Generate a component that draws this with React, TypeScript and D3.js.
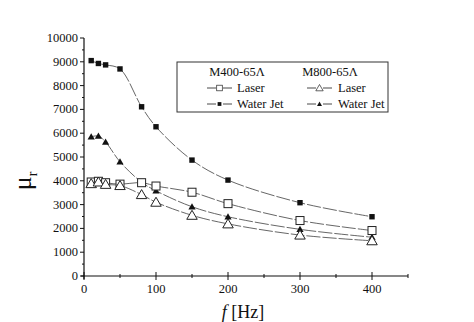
import React from "react";
import * as d3 from "d3";

const freqs = [10, 20, 30, 50, 80, 100, 150, 200, 300, 400];
const m400WaterJet = [9050, 8930, 8870, 8700, 7110, 6270, 4870, 4030, 3080, 2490];
const m800WaterJet = [5850, 5880, 5630, 4800, 3940, 3580, 2910, 2490, 1960, 1630];
const m400Laser = [3950, 3980, 3920, 3860, 3920, 3780, 3520, 3040, 2330, 1910];
const m800Laser = [3880, 3950, 3850, 3800, 3420, 3100, 2550, 2190, 1720, 1480];
const xTicks = [0, 100, 200, 300, 400];
const xMinor = [50, 150, 250, 350, 450];
const yTicks = [0, 1000, 2000, 3000, 4000, 5000, 6000, 7000, 8000, 9000, 10000];
const yMinor = [500, 1500, 2500, 3500, 4500, 5500, 6500, 7500, 8500, 9500];

const W = 474, H = 322;
const x = d3.scaleLinear().domain([0, 450]).range([84, 408]);
const y = d3.scaleLinear().domain([0, 10000]).range([276, 38]);
const font = "'Liberation Serif', 'Times New Roman', serif";

type Marker = "sqOpen" | "sqFill" | "triOpen" | "triFill";

function MarkerShape({ type, cx, cy }: { type: Marker; cx: number; cy: number }) {
  if (type === "sqFill") return <rect x={cx - 2.7} y={cy - 2.7} width={5.4} height={5.4} fill="#111" />;
  if (type === "sqOpen")
    return <rect x={cx - 4} y={cy - 4} width={8} height={8} fill="#fff" stroke="#222" strokeWidth={1} />;
  if (type === "triFill") {
    const s = 3.6;
    return <path d={`M${cx},${cy - s}L${cx + s},${cy + s * 0.75}L${cx - s},${cy + s * 0.75}Z`} fill="#111" />;
  }
  const s = 5;
  return (
    <path
      d={`M${cx},${cy - s}L${cx + s * 1.05},${cy + s * 0.8}L${cx - s * 1.05},${cy + s * 0.8}Z`}
      fill="#fff"
      stroke="#222"
      strokeWidth={1}
    />
  );
}

const series: { vals: number[]; marker: Marker; dash: string }[] = [
  { vals: m400WaterJet, marker: "sqFill", dash: "14,2" },
  { vals: m800WaterJet, marker: "triFill", dash: "14,2" },
  { vals: m400Laser, marker: "sqOpen", dash: "14,2" },
  { vals: m800Laser, marker: "triOpen", dash: "14,2" },
];

export default function App() {
  const line = d3
    .line<number>()
    .x((_, i) => x(freqs[i]))
    .y((v) => y(v))
    .curve(d3.curveCatmullRom.alpha(0.5));

  return (
    <svg width={W} height={H} style={{ position: "absolute", left: 0, top: 0, background: "#fff" }}>
      <rect width={W} height={H} fill="#fff" />
      {/* axes */}
      <line x1={84} x2={84} y1={y(10000)} y2={279} stroke="#111" strokeWidth={1.2} />
      <line x1={81} x2={408} y1={276} y2={276} stroke="#111" strokeWidth={1.2} />
      {yTicks.map((t) => (
        <g key={"y" + t}>
          <line x1={80} x2={84} y1={y(t)} y2={y(t)} stroke="#111" strokeWidth={1} />
          <text x={78} y={y(t) + 4} textAnchor="end" fontFamily={font} fontSize={12.5} fill="#111">
            {t}
          </text>
        </g>
      ))}
      {yMinor.map((t) => (
        <line key={"ym" + t} x1={82} x2={84} y1={y(t)} y2={y(t)} stroke="#111" strokeWidth={1} />
      ))}
      {xTicks.map((t) => (
        <g key={"x" + t}>
          <line x1={x(t)} x2={x(t)} y1={272} y2={280} stroke="#111" strokeWidth={1} />
          <text x={x(t)} y={293} textAnchor="middle" fontFamily={font} fontSize={12.5} fill="#111">
            {t}
          </text>
        </g>
      ))}
      {xMinor.map((t) => (
        <line key={"xm" + t} x1={x(t)} x2={x(t)} y1={274} y2={278} stroke="#111" strokeWidth={1} />
      ))}
      {/* axis titles */}
      <text x={243} y={318} textAnchor="middle" fontFamily={font} fontSize={18} fill="#111">
        <tspan fontStyle="italic">f</tspan> [Hz]
      </text>
      <text
        transform="translate(31,181) rotate(-90)"
        textAnchor="middle"
        fontFamily={font}
        fontSize={26}
        fill="#111"
      >
        μ<tspan fontSize={14} dy={6}>r</tspan>
      </text>
      {/* series */}
      {series.map((s, si) => (
        <g key={"s" + si}>
          <path d={line(s.vals) || ""} fill="none" stroke="#555" strokeWidth={0.9} strokeDasharray={s.dash} />
          {s.vals.map((v, i) => (
            <MarkerShape key={i} type={s.marker} cx={x(freqs[i])} cy={y(v)} />
          ))}
        </g>
      ))}
      {/* legend */}
      <rect x={177} y={62} width={211} height={50} fill="#fff" stroke="#333" strokeWidth={1} />
      <text x={237} y={76} textAnchor="middle" fontFamily={font} fontSize={12.5} fill="#111">
        M400-65Λ
      </text>
      <text x={330} y={76} textAnchor="middle" fontFamily={font} fontSize={12.5} fill="#111">
        M800-65Λ
      </text>
      {[
        { lx: 207, ty: 92, m: "sqOpen" as Marker, label: "Laser", tx: 237 },
        { lx: 207, ty: 108, m: "sqFill" as Marker, label: "Water Jet", tx: 237 },
        { lx: 307, ty: 92, m: "triOpen" as Marker, label: "Laser", tx: 338 },
        { lx: 307, ty: 108, m: "triFill" as Marker, label: "Water Jet", tx: 338 },
      ].map((e, i) => (
        <g key={"lg" + i}>
          <line x1={e.lx} x2={e.lx + 9} y1={e.ty - 4} y2={e.ty - 4} stroke="#333" strokeWidth={0.9} />
          <line x1={e.lx + 16} x2={e.lx + 25} y1={e.ty - 4} y2={e.ty - 4} stroke="#333" strokeWidth={0.9} />
          <g transform={`translate(${e.lx + 12.5},${e.ty - 4}) scale(0.7) translate(${-(e.lx + 12.5)},${-(e.ty - 4)})`}>
            <MarkerShape type={e.m} cx={e.lx + 12.5} cy={e.ty - 4} />
          </g>
          <text x={e.tx} y={e.ty} fontFamily={font} fontSize={12.5} fill="#111">
            {e.label}
          </text>
        </g>
      ))}
    </svg>
  );
}
